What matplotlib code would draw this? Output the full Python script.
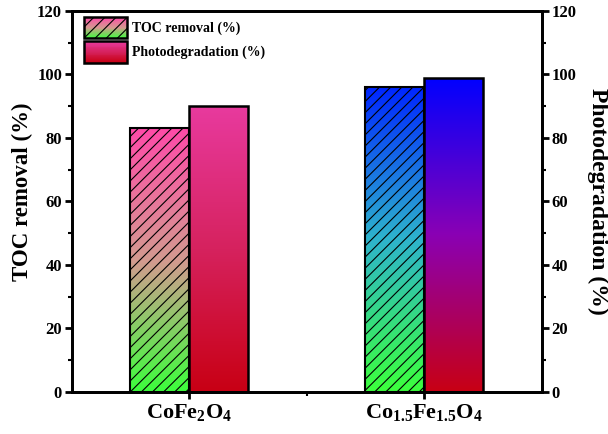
import numpy as np
import matplotlib
matplotlib.use("Agg")
import matplotlib.pyplot as plt
from matplotlib.patches import Rectangle
from matplotlib.legend_handler import HandlerBase
from matplotlib.ticker import MultipleLocator, FixedLocator

categories = ["CoFe$_2$O$_4$", "Co$_{1.5}$Fe$_{1.5}$O$_4$"]
toc_removal = [83, 96]
photodegradation = [90, 99]
series_labels = ["TOC removal (%)", "Photodegradation (%)"]

# gradient colours per bar: (bottom, middle, top)
TOC_GRAD = [
    ["#3cff3c", "#d49a90", "#ff4aa8"],
    ["#3cff3c", "#2eb4cc", "#0026ff"],
]
PHOTO_GRAD = [
    ["#c80014", "#d6225e", "#e83a9e"],
    ["#c80014", "#8a00b4", "#0000ff"],
]
LEGEND_GRAD = [["#3cff3c", "#d49a90", "#ff4aa8"], ["#c80014", "#d6225e", "#e83a9e"]]

plt.rcParams["font.family"] = ["Liberation Serif", "DejaVu Serif"]
plt.rcParams["font.weight"] = "bold"
plt.rcParams["mathtext.fontset"] = "custom"
plt.rcParams["mathtext.rm"] = "Liberation Serif:bold"
plt.rcParams["mathtext.it"] = "Liberation Serif:bold"
plt.rcParams["mathtext.bf"] = "Liberation Serif:bold"
plt.rcParams["hatch.linewidth"] = 0.8


def _gradient(stops, n=256):
    cols = np.array([matplotlib.colors.to_rgb(c) for c in stops])
    pos = np.linspace(0, 1, len(stops))
    t = np.linspace(0, 1, n)
    return np.stack([np.interp(t, pos, cols[:, k]) for k in range(3)], axis=1)


class GradHandle:
    def __init__(self, stops, hatch):
        self.stops = stops
        self.hatch = hatch


class GradHandler(HandlerBase):
    def create_artists(self, legend, orig_handle, xdescent, ydescent, width, height, fontsize, trans):
        arts = []
        n = 24
        cols = _gradient(orig_handle.stops, n)
        for i in range(n):
            r = Rectangle((-xdescent, -ydescent + height * i / n), width, height / n + 0.3,
                          facecolor=cols[i], edgecolor="none", transform=trans)
            arts.append(r)
        frame = Rectangle((-xdescent, -ydescent), width, height, facecolor="none",
                          edgecolor="black", linewidth=1.8, hatch=orig_handle.hatch, transform=trans)
        arts.append(frame)
        return arts


fig = plt.figure(figsize=(6.08, 4.34), dpi=100)
ax = fig.add_axes([0.118, 0.097, 0.773, 0.878])

x = np.arange(1, len(categories) + 1)
w = 0.25
bars_toc = ax.bar(x - w / 2, toc_removal, w, facecolor="none", edgecolor="black",
                  linewidth=1.5, hatch="///", zorder=3)
bars_ph = ax.bar(x + w / 2, photodegradation, w, facecolor="none", edgecolor="black",
                 linewidth=1.8, zorder=3)

for bars, grads in ((bars_toc, TOC_GRAD), (bars_ph, PHOTO_GRAD)):
    for p, stops in zip(bars, grads):
        x0, y0, bw, bh = p.get_x(), p.get_y(), p.get_width(), p.get_height()
        img = _gradient(stops)[:, None, :]
        im = ax.imshow(img, extent=[x0, x0 + bw, y0, y0 + bh], origin="lower",
                       aspect="auto", zorder=2, interpolation="bilinear")
        im.set_clip_path(p)

ax.set_xlim(0.5, 2.5)
ax.set_ylim(0, 120)
ax.set_xticks(x)
ax.set_xticklabels(categories)
ax.xaxis.set_minor_locator(FixedLocator([1.5]))
ax.yaxis.set_major_locator(MultipleLocator(20))
ax.yaxis.set_minor_locator(MultipleLocator(10))
ax.tick_params(axis="both", which="major", direction="out", length=5, width=2)
ax.tick_params(axis="both", which="minor", direction="out", length=3, width=1.5)
ax.tick_params(axis="y", labelsize=12, pad=2)
ax.tick_params(axis="x", labelsize=16, pad=2)
for s in ax.spines.values():
    s.set_linewidth(2)
ax.set_ylabel("TOC removal (%)", fontsize=16.5, fontweight="bold", va="center")
ax.yaxis.set_label_coords(-0.104, 0.525)

ax2 = ax.twinx()
ax2.set_ylim(0, 120)
ax2.yaxis.set_major_locator(MultipleLocator(20))
ax2.yaxis.set_minor_locator(MultipleLocator(10))
ax2.tick_params(axis="y", which="major", direction="out", length=5, width=2, labelsize=12, pad=2)
ax2.tick_params(axis="y", which="minor", direction="out", length=3, width=1.5)
for s in ax2.spines.values():
    s.set_linewidth(2)
ax2.set_ylabel("Photodegradation (%)", fontsize=17, fontweight="bold", rotation=-90, va="center")
ax2.yaxis.set_label_coords(1.119, 0.5)

handles = [GradHandle(LEGEND_GRAD[0], "///"), GradHandle(LEGEND_GRAD[1], None)]
ax.legend(handles, series_labels, handler_map={GradHandle: GradHandler()},
          loc="upper left", bbox_to_anchor=(0.0255, 0.984), frameon=False, fontsize=10,
          handlelength=3.1, handleheight=2.0, labelspacing=0.2, handletextpad=0.35,
          borderaxespad=0, borderpad=0)

fig.savefig("out.png", dpi=100)
